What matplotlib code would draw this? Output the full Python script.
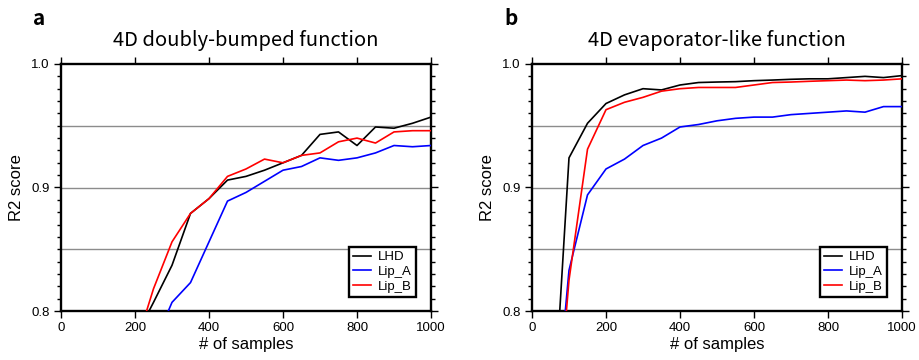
import numpy as np
import matplotlib.pyplot as plt
from matplotlib.ticker import MultipleLocator

samples = [50, 100, 150, 200, 250, 300, 350, 400, 450, 500,
           550, 600, 650, 700, 750, 800, 850, 900, 950, 1000]
nan = np.nan

# panel a: 4D doubly-bumped function
a_lhd = [nan, nan, nan, 0.778, 0.807, 0.837, 0.879, 0.891, 0.906, 0.909,
         0.914, 0.920, 0.926, 0.943, 0.945, 0.934, 0.949, 0.948, 0.952, 0.957]
a_lip_a = [nan, nan, nan, nan, 0.772, 0.807, 0.823, 0.856, 0.889, 0.896,
           0.905, 0.914, 0.917, 0.924, 0.922, 0.924, 0.928, 0.934, 0.933, 0.934]
a_lip_b = [nan, nan, nan, 0.770, 0.818, 0.856, 0.879, 0.891, 0.909, 0.915,
           0.923, 0.920, 0.926, 0.928, 0.937, 0.940, 0.936, 0.945, 0.946, 0.946]

# panel b: 4D evaporator-like function
b_lhd = [0.676, 0.924, 0.952, 0.968, 0.975, 0.980, 0.979, 0.983, 0.985, 0.9854,
         0.9857, 0.9865, 0.987, 0.9876, 0.988, 0.988, 0.989, 0.990, 0.989, 0.9906]
b_lip_a = [0.668, 0.833, 0.894, 0.915, 0.923, 0.934, 0.940, 0.949, 0.951, 0.954,
           0.956, 0.957, 0.957, 0.959, 0.960, 0.961, 0.962, 0.961, 0.9655, 0.9655]
b_lip_b = [0.646, 0.825, 0.931, 0.963, 0.969, 0.973, 0.978, 0.980, 0.981, 0.981,
           0.981, 0.983, 0.985, 0.9854, 0.986, 0.9865, 0.987, 0.9865, 0.987, 0.988]

panels = [
    ("a", "4D doubly-bumped function", a_lhd, a_lip_a, a_lip_b),
    ("b", "4D evaporator-like function", b_lhd, b_lip_a, b_lip_b),
]
labels = ["LHD", "Lip_A", "Lip_B"]
colors = ["#000000", "#0000ff", "#ff0000"]

plt.rcParams["font.family"] = ["Liberation Sans", "DejaVu Sans"]
title_font = ["Noto Sans CJK JP", "DejaVu Sans"]

fig = plt.figure(figsize=(9.2, 3.6), dpi=100)
axes_left = [61 / 920, 532 / 920]

for left, (tag, title, *series) in zip(axes_left, panels):
    ax = fig.add_axes([left, 49 / 360, 370 / 920, 247 / 360])
    for yv in [0.85, 0.9, 0.95]:
        ax.axhline(yv, color="#8c8c8c", lw=1.0, zorder=1)
    for vals, lab, col in zip(series, labels, colors):
        ax.plot(samples, vals, color=col, lw=1.2, label=lab, zorder=3)
    ax.set_xlim(0, 1000)
    ax.set_ylim(0.8, 1.0)
    ax.xaxis.set_major_locator(MultipleLocator(200))
    ax.yaxis.set_major_locator(MultipleLocator(0.1))
    ax.yaxis.set_minor_locator(MultipleLocator(0.01))
    ax.tick_params(which="both", direction="out", top=True, right=True,
                   labelsize=9.5, width=1.0, colors="black")
    ax.tick_params(which="major", length=5, pad=3)
    ax.tick_params(axis="y", which="minor", length=2.7)
    ax.tick_params(axis="x", which="minor", bottom=False, top=False)
    ax.set_yticklabels([f"{v:.1f}" for v in ax.get_yticks()])
    for sp in ax.spines.values():
        sp.set_linewidth(1.7)
    ax.set_xlabel("# of samples", fontsize=12, labelpad=2)
    ax.set_ylabel("R2 score", fontsize=12, labelpad=5)
    ax.set_title(title, fontsize=14.5, family=title_font, pad=13)
    ax.text(-0.075, 1.185, tag, transform=ax.transAxes, fontsize=15,
            fontweight="bold", family=title_font, va="center", ha="left")
    leg = ax.legend(loc="lower right", fontsize=9.5, fancybox=False,
                    framealpha=1, edgecolor="black", borderpad=0.3,
                    handlelength=1.35, handletextpad=0.55, labelspacing=0.2,
                    borderaxespad=0, bbox_to_anchor=(0.96, 0.057))
    leg.get_frame().set_linewidth(1.7)

fig.savefig("out.png", dpi=100)
